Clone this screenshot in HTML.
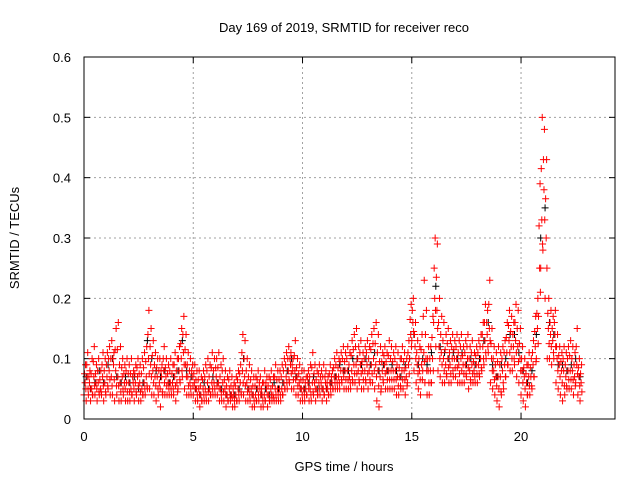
<!DOCTYPE html>
<html><head><meta charset="utf-8"><style>
body{margin:0;background:#fff}
svg text{font-family:"Liberation Sans",sans-serif;font-size:13px;fill:#000}
</style></head><body>
<svg id="chart" width="640" height="480">
<text x="344" y="32" text-anchor="middle">Day 169 of 2019, SRMTID for receiver reco</text>
<text x="344" y="471" text-anchor="middle">GPS time / hours</text>
<text transform="translate(19,238) rotate(-90)" text-anchor="middle">SRMTID / TECUs</text>
<g id="grid"></g>
<g id="ticks"></g>
<g id="black"></g>
<g id="red"></g>
<rect x="84" y="57" width="531" height="362" fill="none" stroke="#000"/>
</svg>
<script>
const xTicks=[0,5,10,15,20];
const yTicks=[0,0.1,0.2,0.3,0.4,0.5,0.6];
const yTickLabels=["0","0.1","0.2","0.3","0.4","0.5","0.6"];
const redStart=0, redStep=0.1;
const redHi=[.09,.11,.08,.10,.12,.09,.10,.08,.11,.10,.11,.12,.13,.11,.15,.16,.12,.10,.09,.10,.09,.10,.08,.09,.10,.09,.10,.11,.12,.18,.15,.13,.11,.10,.10,.09,.12,.10,.09,.10,.09,.11,.10,.12,.15,.17,.14,.11,.10,.09,.09,.08,.08,.07,.08,.09,.10,.09,.11,.10,.10,.11,.09,.10,.08,.07,.08,.07,.06,.07,.08,.09,.14,.13,.10,.09,.08,.07,.07,.08,.07,.06,.08,.07,.07,.08,.07,.09,.08,.08,.09,.10,.11,.12,.11,.10,.13,.10,.09,.08,.08,.07,.08,.09,.11,.09,.08,.09,.08,.09,.08,.07,.09,.08,.10,.11,.10,.11,.12,.11,.12,.11,.13,.14,.15,.12,.13,.11,.12,.13,.12,.14,.15,.16,.14,.12,.11,.12,.11,.13,.12,.11,.12,.11,.10,.12,.11,.10,.13,.19,.20,.16,.13,.12,.14,.23,.18,.12,.12,.17,.30,.29,.20,.17,.16,.14,.15,.13,.14,.13,.14,.13,.14,.12,.13,.14,.12,.13,.11,.12,.13,.14,.16,.19,.18,.23,.15,.12,.11,.12,.11,.12,.13,.16,.18,.17,.16,.19,.18,.15,.12,.10,.09,.11,.10,.13,.17,.20,.39,.50,.48,.43,.20,.18,.17,.18,.14,.12,.11,.12,.11,.12,.13,.12,.11,.15,.10,.09];
const redMid=[.06,.07,.06,.05,.07,.06,.06,.05,.07,.06,.07,.08,.07,.09,.08,.07,.06,.07,.06,.06,.06,.05,.06,.06,.07,.06,.05,.06,.07,.10,.09,.08,.07,.07,.06,.07,.08,.07,.06,.06,.06,.07,.06,.08,.10,.11,.09,.07,.06,.07,.06,.05,.05,.04,.05,.05,.06,.05,.06,.06,.07,.06,.05,.06,.05,.04,.05,.04,.04,.04,.05,.06,.08,.07,.06,.05,.05,.04,.04,.05,.05,.04,.04,.05,.04,.05,.04,.05,.05,.05,.05,.06,.07,.08,.09,.08,.08,.07,.06,.05,.05,.05,.06,.05,.06,.06,.05,.06,.06,.05,.06,.05,.06,.06,.07,.07,.07,.08,.08,.08,.08,.07,.08,.09,.09,.08,.09,.08,.08,.09,.08,.09,.10,.09,.08,.07,.08,.09,.08,.08,.08,.08,.08,.07,.07,.08,.08,.07,.09,.14,.16,.12,.09,.08,.09,.11,.10,.08,.08,.10,.20,.18,.12,.11,.10,.09,.10,.09,.10,.10,.10,.09,.10,.09,.09,.10,.08,.09,.08,.09,.09,.10,.12,.13,.14,.15,.10,.08,.07,.07,.07,.08,.09,.11,.13,.12,.12,.13,.12,.10,.08,.07,.06,.07,.07,.09,.12,.15,.25,.33,.38,.30,.15,.14,.13,.14,.10,.09,.08,.08,.07,.08,.08,.08,.07,.09,.07,.06];
const redLo=[.04,.03,.04,.03,.04,.04,.03,.04,.04,.03,.04,.05,.04,.04,.03,.04,.03,.03,.04,.03,.03,.03,.04,.03,.04,.03,.03,.04,.04,.05,.05,.04,.04,.03,.04,.02,.04,.04,.04,.04,.04,.04,.03,.05,.06,.07,.05,.04,.04,.04,.04,.03,.03,.02,.03,.03,.03,.03,.04,.04,.04,.04,.03,.03,.03,.02,.03,.03,.02,.02,.03,.03,.04,.04,.03,.03,.03,.02,.02,.03,.03,.02,.02,.03,.02,.03,.03,.03,.03,.03,.03,.04,.05,.05,.06,.05,.05,.04,.04,.03,.03,.03,.04,.03,.03,.04,.03,.04,.04,.03,.04,.03,.04,.04,.05,.05,.05,.05,.06,.05,.05,.05,.05,.06,.06,.05,.06,.05,.05,.06,.05,.06,.06,.05,.03,.02,.05,.06,.05,.05,.05,.05,.05,.04,.04,.05,.05,.04,.06,.10,.13,.08,.06,.05,.04,.08,.06,.04,.04,.06,.16,.12,.08,.07,.06,.06,.07,.06,.06,.07,.07,.06,.06,.06,.06,.07,.05,.06,.06,.06,.06,.07,.08,.09,.10,.11,.06,.05,.04,.03,.02,.04,.05,.07,.09,.08,.08,.09,.07,.06,.04,.03,.02,.04,.04,.05,.07,.10,.17,.25,.28,.20,.10,.10,.09,.10,.06,.05,.04,.03,.04,.05,.05,.05,.04,.06,.04,.03];
const blackStart=0.1, blackStep=0.2;
const blackVals=[.07,.05,.06,.08,.06,.09,.10,.07,.06,.07,.06,.07,.05,.06,.13,.10,.08,.07,.08,.06,.07,.08,.13,.08,.07,.05,.04,.06,.05,.07,.06,.05,.04,.04,.04,.05,.10,.05,.04,.05,.04,.05,.04,.06,.05,.06,.08,.10,.07,.05,.05,.06,.07,.05,.05,.05,.06,.07,.09,.08,.08,.10,.10,.09,.10,.09,.11,.08,.09,.08,.09,.08,.07,.09,.10,.14,.09,.10,.09,.11,.22,.12,.11,.10,.11,.10,.11,.09,.10,.09,.10,.13,.16,.09,.07,.09,.10,.14,.14,.11,.08,.06,.08,.14,.30,.35,.16,.14,.09,.09,.08,.09,.10,.07];

const X0=84,X1=615,Y0=419,Y1=57,XMAX=24.3,YMAX=0.6;
const xs=v=>X0+v/XMAX*(X1-X0);
const ys=v=>Y0-v/YMAX*(Y0-Y1);
const NS='http://www.w3.org/2000/svg';
function mk(tag,attrs,parent){const e=document.createElementNS(NS,tag);for(const k in attrs)e.setAttribute(k,attrs[k]);parent.appendChild(e);return e;}
const grid=document.getElementById('grid'),ticks=document.getElementById('ticks');
xTicks.forEach(t=>{const x=xs(t);
 if(t>0){const g=mk('line',{x1:x,x2:x,y1:Y1,y2:Y0,stroke:'#a0a0a0','stroke-dasharray':'2,3'},grid);}
 mk('line',{x1:x,x2:x,y1:Y0,y2:Y0-6,stroke:'#000'},ticks);mk('line',{x1:x,x2:x,y1:Y1,y2:Y1+6,stroke:'#000'},ticks);
 const l=mk('text',{x:x,y:Y0+22,'text-anchor':'middle'},ticks);l.textContent=t;
 });
yTicks.forEach((t,i)=>{const y=ys(t);
 if(t>0&&t<YMAX){const g=mk('line',{x1:X0,x2:X1,y1:y,y2:y,stroke:'#a0a0a0','stroke-dasharray':'2,3'},grid);}
 mk('line',{x1:X0,x2:X0+6,y1:y,y2:y,stroke:'#000'},ticks);mk('line',{x1:X1,x2:X1-6,y1:y,y2:y,stroke:'#000'},ticks);
 const l=mk('text',{x:X0-13,y:y+5,'text-anchor':'end'},ticks);l.textContent=yTickLabels[i];
 });
function cross(g,t,v,col){const x=xs(t),y=ys(v);
 const p=mk('path',{d:`M${x-3.5},${y}H${x+3.5}M${x},${y-3.5}V${y+3.5}`,stroke:col,'stroke-width':1,fill:'none'},g);
 
 }
const bg=document.getElementById('black');
blackVals.forEach((v,i)=>cross(bg,blackStart+i*blackStep,v,'#000'));
const rg=document.getElementById('red');
redMid.forEach((v,i)=>{const t=redStart+i*redStep;
 cross(rg,t,redLo[i],'#f00');cross(rg,t+0.05,v,'#f00');cross(rg,t+0.025,(v+redHi[i])/2,'#f00');cross(rg,t+0.07,redHi[i],'#f00');cross(rg,t+0.085,(v+redLo[i])/2,'#f00');});
</script>
</body></html>
